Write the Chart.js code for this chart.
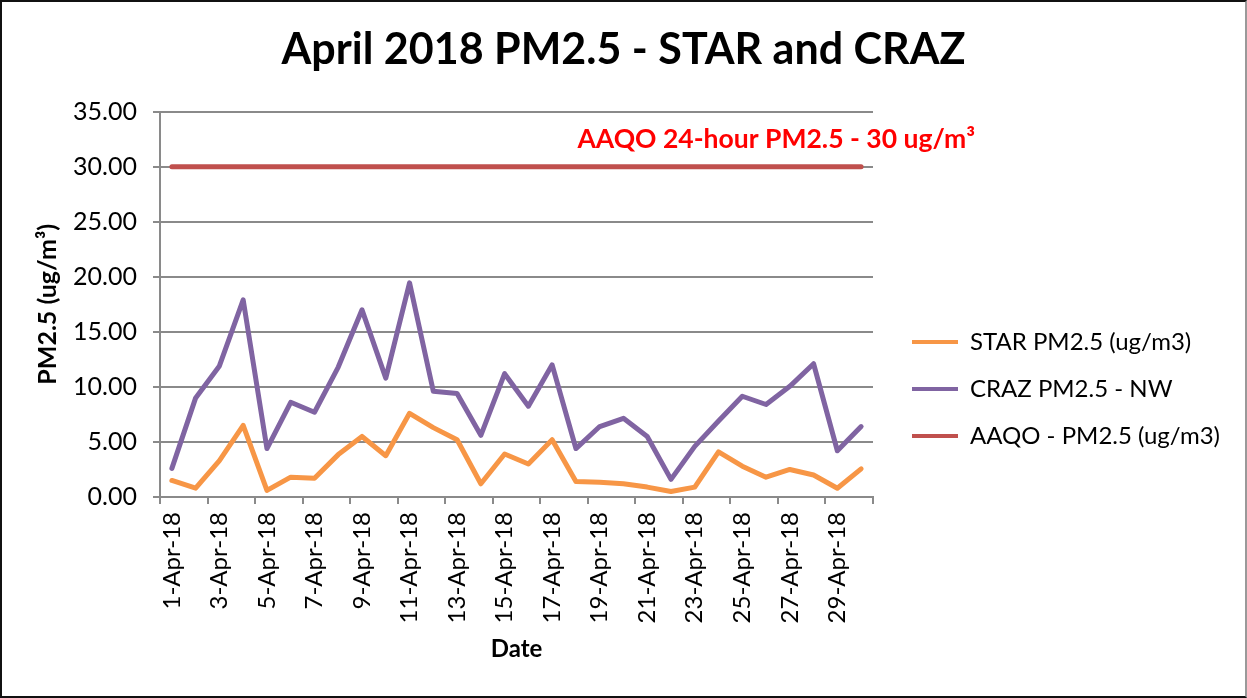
<!DOCTYPE html>
<html>
<head>
<meta charset="utf-8">
<script src="https://cdn.jsdelivr.net/npm/chart.js@4"></script>
<style>
  html, body { margin: 0; padding: 0; background: #fff; }
  #frame {
    width: 1247px; height: 698px; box-sizing: border-box;
    border: 2px solid #111; border-right-color: #999;
  }
  #frame canvas { display: block; }
</style>
</head>
<body>
<div id="frame"><canvas id="pmChart" width="1243" height="694"></canvas></div>
<script>
// Days of April 2018
const dates = [
    '1-Apr-18', '2-Apr-18', '3-Apr-18', '4-Apr-18', '5-Apr-18', '6-Apr-18',
    '7-Apr-18', '8-Apr-18', '9-Apr-18', '10-Apr-18', '11-Apr-18', '12-Apr-18',
    '13-Apr-18', '14-Apr-18', '15-Apr-18', '16-Apr-18', '17-Apr-18', '18-Apr-18',
    '19-Apr-18', '20-Apr-18', '21-Apr-18', '22-Apr-18', '23-Apr-18', '24-Apr-18',
    '25-Apr-18', '26-Apr-18', '27-Apr-18', '28-Apr-18', '29-Apr-18', '30-Apr-18'
];

// Daily averages (ug/m3)
const starPM25 = [
    1.5, 0.8, 3.3, 6.5, 0.6, 1.8, 1.7, 3.85, 5.5, 3.75,
    7.6, 6.3, 5.2, 1.2, 3.9, 3.0, 5.2, 1.4, 1.35, 1.2,
    0.9, 0.5, 0.9, 4.1, 2.8, 1.8, 2.5, 2.0, 0.8, 2.55
];
const crazPM25 = [
    2.6, 9.0, 11.9, 17.9, 4.4, 8.6, 7.7, 11.8, 17.0, 10.8,
    19.45, 9.6, 9.4, 5.6, 11.2, 8.25, 12.0, 4.4, 6.4, 7.15,
    5.5, 1.6, 4.6, 6.9, 9.15, 8.4, 10.05, 12.1, 4.2, 6.4
];
const aaqoLimit = dates.map(() => 30);

const limitLabel = 'AAQO 24-hour PM2.5 - 30 ug/m³';

const FONT = 'Lato';
const gridGray = '#8a8a8a';

// Red annotation text above the AAQO line
const limitText = {
    id: 'limitText',
    afterDatasetsDraw(chart) {
        const { ctx, chartArea, scales } = chart;
        ctx.save();
        ctx.font = `bold 26.5px ${FONT}`;
        ctx.fillStyle = '#ff0000';
        ctx.textAlign = 'right';
        ctx.textBaseline = 'middle';
        ctx.fillText(limitLabel, chartArea.right + 102, scales.y.getPixelForValue(32.5));
        ctx.restore();
    }
};

// Fix the legend column width so the plot keeps its place
const legendWidth = {
    id: 'legendWidth',
    beforeLayout(chart) {
        const legend = chart.legend;
        if (!legend || legend._fixedFit) return;
        const fit = legend.fit;
        legend.fit = function() {
            fit.call(this);
            this.width = 356;
        };
        legend._fixedFit = true;
    }
};

const ctx = document.getElementById('pmChart').getContext('2d');

new Chart(ctx, {
    type: 'line',
    data: {
        labels: dates,
        datasets: [
            {
                label: 'STAR PM2.5 (ug/m3)',
                data: starPM25,
                borderColor: '#f79646',
                backgroundColor: '#f79646'
            },
            {
                label: 'CRAZ PM2.5 - NW',
                data: crazPM25,
                borderColor: '#8064a2',
                backgroundColor: '#8064a2'
            },
            {
                label: 'AAQO - PM2.5 (ug/m3)',
                data: aaqoLimit,
                borderColor: '#c0504d',
                backgroundColor: '#c0504d'
            }
        ]
    },
    options: {
        responsive: false,
        animation: false,
        elements: {
            line: { borderWidth: 5, tension: 0, borderJoinStyle: 'round', borderCapStyle: 'round' },
            point: { radius: 0 }
        },
        layout: { padding: { left: 0, right: 0, top: 0, bottom: 28 } },
        plugins: {
            title: {
                display: true,
                text: 'April 2018 PM2.5 - STAR and CRAZ',
                color: '#000',
                font: { family: FONT, size: 43, weight: 'bold' },
                padding: { top: 22, bottom: 36 }
            },
            legend: {
                position: 'right',
                // blank title only pushes the entries down
                title: {
                    display: true,
                    text: ' ',
                    color: '#000',
                    font: { family: FONT, size: 10 },
                    padding: { top: 96, bottom: 0 }
                },
                labels: {
                    color: '#000',
                    font: { family: FONT, size: 24 },
                    boxWidth: 46,
                    boxHeight: 4,
                    padding: 23,
                    generateLabels(chart) {
                        return chart.data.datasets.map((ds, i) => ({
                            text: ds.label,
                            fillStyle: ds.borderColor,
                            strokeStyle: ds.borderColor,
                            fontColor: '#000',
                            lineWidth: 0,
                            hidden: false,
                            datasetIndex: i
                        }));
                    }
                }
            },
            tooltip: { enabled: false }
        },
        scales: {
            x: {
                offset: true,
                grid: {
                    offset: true,
                    drawOnChartArea: false,
                    tickLength: 7,
                    lineWidth: 2,
                    color: c => (c.index === undefined || c.index % 2 === 0) ? gridGray : 'rgba(0,0,0,0)'
                },
                border: { color: gridGray, width: 2 },
                ticks: {
                    autoSkip: false,
                    minRotation: 90,
                    maxRotation: 90,
                    padding: 8,
                    color: '#000',
                    font: { family: FONT, size: 24 },
                    callback: function(value, index) {
                        return index % 2 === 0 ? dates[index] : '';
                    }
                },
                title: {
                    display: true,
                    text: 'Date',
                    color: '#000',
                    font: { family: FONT, size: 24, weight: 'bold' },
                    padding: { top: 0, bottom: 4 }
                },
                afterFit: scale => { scale.height = 171; }
            },
            y: {
                min: 0,
                max: 35,
                grid: {
                    color: gridGray,
                    lineWidth: 2,
                    tickLength: 7
                },
                border: { color: gridGray, width: 2 },
                ticks: {
                    stepSize: 5,
                    padding: 16,
                    color: '#000',
                    font: { family: FONT, size: 25 },
                    callback: value => value.toFixed(2)
                },
                title: {
                    display: true,
                    text: 'PM2.5 (ug/m³)',
                    color: '#000',
                    font: { family: FONT, size: 25, weight: 'bold' },
                    padding: { top: 31, bottom: 0 }
                },
                afterFit: scale => { scale.width = 158; }
            },
            // empty axis that only keeps a gap between plot and legend
            gap: {
                type: 'linear',
                position: 'right',
                grid: { display: false },
                border: { display: false },
                ticks: { display: false },
                afterFit: scale => { scale.width = 16; }
            }
        }
    },
    plugins: [limitText, legendWidth]
});
</script>
</body>
</html>
